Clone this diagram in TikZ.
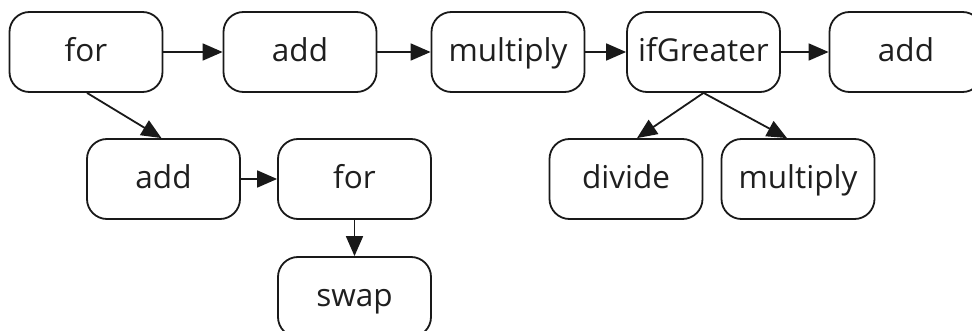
\documentclass[tikz,border=0pt]{standalone}
\usepackage{fontspec}
\setmainfont{Open Sans}
\usetikzlibrary{arrows.meta}
\begin{document}
\begin{tikzpicture}[x=1pt,y=-1pt,
  op/.style={draw=black!90, line width=1.8pt, rectangle, rounded corners=20pt,
    minimum width=153pt, minimum height=80pt, inner sep=0pt,
    text height=25pt, text depth=6pt,
    font=\fontsize{31.5}{31.5}\selectfont, text=black!88},
  link/.style={draw=black!90, line width=1.8pt, -{Triangle[length=20pt,width=17pt]}}]
  \useasboundingbox (0,0) rectangle (972,331);
  \clip (0,0) rectangle (972,331);
  % top row
  \node[op] (for1) at (86,52) {for};
  \node[op] (add1) at (300,52) {add};
  \node[op] (mul1) at (508,52) {multiply};
  \node[op] (ifg)  at (703.5,52) {ifGreater};
  \node[op] (add2) at (906,52) {add};
  % second row
  \node[op] (addB) at (163.5,179) {add};
  \node[op] (forB) at (354.5,179) {for};
  \node[op] (div)  at (626,179) {divide};
  \node[op] (mulB) at (798,179) {multiply};
  % third row
  \node[op] (swap) at (354.5,297) {swap};
  % connectors
  \draw[link] (for1) -- (add1);
  \draw[link] (add1) -- (mul1);
  \draw[link] (mul1) -- (ifg);
  \draw[link] (ifg) -- (add2);
  \draw[link] ([xshift=1pt]for1.south) -- ([xshift=-2pt]addB.north);
  \draw[link] (addB) -- (forB);
  \draw[link] (forB) -- (swap);
  \draw[link] (ifg.south) -- ([xshift=11pt]div.north);
  \draw[link] (ifg.south) -- ([xshift=-11pt]mulB.north);
\end{tikzpicture}
\end{document}
